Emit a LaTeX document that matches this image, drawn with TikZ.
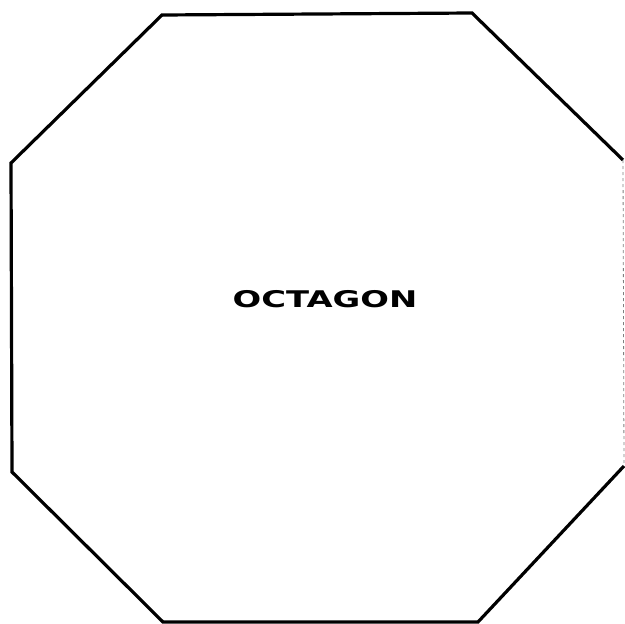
\documentclass[tikz,border=0pt]{standalone}
\usepackage{fontspec}
\newfontfamily\labelfont{DejaVu Sans}
\begin{document}
\begin{tikzpicture}[x=1pt,y=-1pt,
  edge/.style={line width=3.2pt,line join=miter,black},
  faint/.style={line width=0.8pt,gray,dashed},
  label/.style={font=\labelfont\bfseries\fontsize{27}{30}\selectfont,inner sep=0pt}]
\useasboundingbox (0,0) rectangle (625,624);
\coordinate (p1) at (162,15);
\coordinate (p2) at (472,13);
\coordinate (p3) at (623,160);
\coordinate (p4) at (624,466);
\coordinate (p5) at (478,622);
\coordinate (p6) at (163,622);
\coordinate (p7) at (12,472);
\coordinate (p8) at (11,163);
\draw[edge] (p3) -- (p2) -- (p1) -- (p8) -- (p7) -- (p6) -- (p5) -- (p4);
\draw[faint] (p3) -- (p4);
\node[label,xscale=1.25,yscale=0.85] (t) at (325,299) {OCTAGON};
\end{tikzpicture}
\end{document}
